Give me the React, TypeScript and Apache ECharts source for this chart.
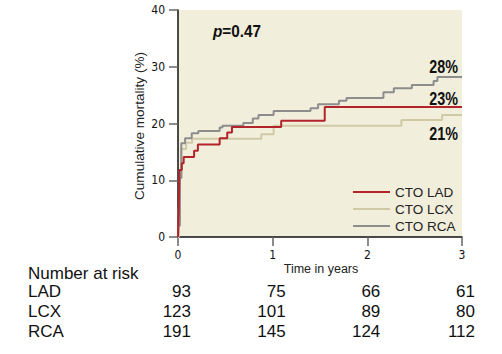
import React, { useEffect, useRef } from "react";
import * as echarts from "echarts";

// ---- Data ----
const seriesNames = ["CTO LAD", "CTO LCX", "CTO RCA"];
const seriesColors = ["#b3232a", "#cfc9a6", "#8d8d8d"];

const ladTimes = [0, 0.003, 0.008, 0.015, 0.04, 0.06, 0.17, 0.21, 0.44, 0.52, 0.57, 1.09, 1.55, 3];
const ladValues = [0, 2.4, 4.8, 11.8, 13.0, 14.1, 15.2, 16.3, 17.4, 18.4, 19.4, 20.5, 22.9, 22.9];

const lcxTimes = [0, 0.008, 0.02, 0.035, 0.085, 0.15, 0.88, 1.01, 2.36, 2.79, 3];
const lcxValues = [0, 5.0, 10.5, 15.5, 16.6, 17.3, 18.1, 19.6, 20.6, 21.5, 21.5];

const rcaTimes = [0, 0.005, 0.02, 0.035, 0.075, 0.145, 0.215, 0.44, 0.47, 0.69, 0.79, 0.85, 1.01, 1.40, 1.48, 1.70, 1.78, 2.17, 2.28, 2.47, 2.70, 2.74, 3];
const rcaValues = [0, 2.0, 10.4, 16.5, 17.4, 18.3, 18.7, 19.3, 19.6, 20.1, 20.9, 21.5, 22.2, 22.7, 23.4, 24.0, 24.5, 25.5, 26.2, 26.8, 27.5, 28.2, 28.2];

const endLabels = ["23%", "21%", "28%"];
const pValue = "0.47";

const riskTitle = "Number at risk";
const riskTimes = [0, 1, 2, 3];
const riskGroups = ["LAD", "LCX", "RCA"];
const riskLAD = [93, 75, 66, 61];
const riskLCX = [123, 101, 89, 80];
const riskRCA = [191, 145, 124, 112];

const xTicks = [0, 1, 2, 3];
const yTicks = [0, 10, 20, 30, 40];

const NARROW = '"DejaVu Sans Condensed", "Liberation Sans", sans-serif';
const SANS = '"Liberation Sans", Arial, sans-serif';

export default function App() {
  const ref = useRef<HTMLDivElement>(null);

  useEffect(() => {
    if (!ref.current) return;
    const chart = echarts.init(ref.current, null, { renderer: "svg" });
    const zip = (t: number[], v: number[]) => t.map((x, i) => [x, v[i]]);
    const allData = [zip(ladTimes, ladValues), zip(lcxTimes, lcxValues), zip(rcaTimes, rcaValues)];

    chart.setOption({
      animation: false,
      grid: {
        left: 178,
        top: 10,
        width: 284,
        height: 227,
        show: true,
        backgroundColor: "#f2eedc",
        borderWidth: 0,
      },
      xAxis: {
        type: "value",
        min: xTicks[0],
        max: xTicks[xTicks.length - 1],
        interval: 1,
        axisLine: { show: true, lineStyle: { color: "#111", width: 1.5 } },
        axisTick: { show: true, length: 9, lineStyle: { color: "#666", width: 1.5 } },
        axisLabel: { margin: 12, color: "#111", fontSize: 12, fontFamily: NARROW },
        splitLine: { show: false },
      },
      yAxis: {
        type: "value",
        min: yTicks[0],
        max: yTicks[yTicks.length - 1],
        interval: 10,
        axisLine: { show: true, lineStyle: { color: "#111", width: 1.5 } },
        axisTick: { show: true, length: 9, lineStyle: { color: "#666", width: 1.5 } },
        axisLabel: { margin: 13, color: "#111", fontSize: 12, fontFamily: NARROW },
        splitLine: { show: false },
      },
      legend: {
        orient: "vertical",
        left: 353,
        top: 185,
        padding: 0,
        itemWidth: 37,
        itemHeight: 2,
        itemGap: 3,
        icon: "rect",
        data: seriesNames,
        textStyle: { fontSize: 13.5, lineHeight: 13, color: "#222", fontFamily: SANS },
      },
      series: seriesNames.map((name, i) => ({
        name,
        type: "line",
        step: "end",
        data: allData[i],
        symbol: "none",
        showSymbol: false,
        color: seriesColors[i],
        itemStyle: { color: seriesColors[i] },
        lineStyle: { color: seriesColors[i], width: 2 },
        z: i === 0 ? 5 : 3,
      })),
    });

    const px = (t: number) => chart.convertToPixel({ xAxisIndex: 0 }, t) as number;
    const py = (v: number) => chart.convertToPixel({ yAxisIndex: 0 }, v) as number;
    const riskRows = [riskLAD, riskLCX, riskRCA];
    const lastVals = [ladValues[ladValues.length - 1], lcxValues[lcxValues.length - 1], rcaValues[rcaValues.length - 1]];
    const labelOffsets = [-8, 18.5, -9.5];

    const graphics: any[] = [];
    graphics.push({
      type: "text",
      x: 139.5,
      y: 126,
      rotation: Math.PI / 2,
      style: {
        text: "Cumulative mortality (%)",
        fontSize: 13.6,
        fontFamily: SANS,
        fill: "#222",
        align: "center",
        verticalAlign: "middle",
      },
    });
    graphics.push({
      type: "text",
      x: 321,
      y: 269,
      style: {
        text: "Time in years",
        fontSize: 12.5,
        fontFamily: SANS,
        fill: "#222",
        align: "center",
        verticalAlign: "middle",
      },
    });
    graphics.push({
      type: "text",
      x: 213,
      y: 31,
      scaleX: 0.9,
      style: {
        text: "{p|p}{v|=" + pValue + "}",
        align: "left",
        verticalAlign: "middle",
        rich: {
          p: { fontSize: 17, fontWeight: "bold", fontStyle: "italic", fontFamily: SANS, fill: "#111" },
          v: { fontSize: 17, fontWeight: "bold", fontFamily: SANS, fill: "#111" },
        },
      },
    });
    endLabels.forEach((lab, i) => {
      graphics.push({
        type: "text",
        x: 458,
        y: py(lastVals[i]) + labelOffsets[i],
        scaleX: 0.82,
        style: {
          text: lab,
          fontSize: 17.5,
          fontWeight: "bold",
          fontFamily: SANS,
          fill: "#111",
          align: "right",
          verticalAlign: "middle",
        },
      });
    });
    graphics.push({
      type: "text",
      x: 28,
      y: 273,
      style: { text: riskTitle, fontSize: 17, fontFamily: SANS, fill: "#111", align: "left", verticalAlign: "middle" },
    });
    riskGroups.forEach((g, r) => {
      const y = 291.5 + r * 20;
      graphics.push({
        type: "text",
        x: 28,
        y,
        style: { text: g, fontSize: 17, fontFamily: SANS, fill: "#111", align: "left", verticalAlign: "middle" },
      });
      riskTimes.forEach((t, c) => {
        graphics.push({
          type: "text",
          x: px(t) + 13,
          y,
          style: {
            text: String(riskRows[r][c]),
            fontSize: 17,
            fontFamily: SANS,
            fill: "#111",
            align: "right",
            verticalAlign: "middle",
          },
        });
      });
    });

    chart.setOption({ graphic: graphics });

    return () => chart.dispose();
  }, []);

  return <div ref={ref} style={{ position: "absolute", left: 0, top: 0, width: 502, height: 354 }} />;
}
